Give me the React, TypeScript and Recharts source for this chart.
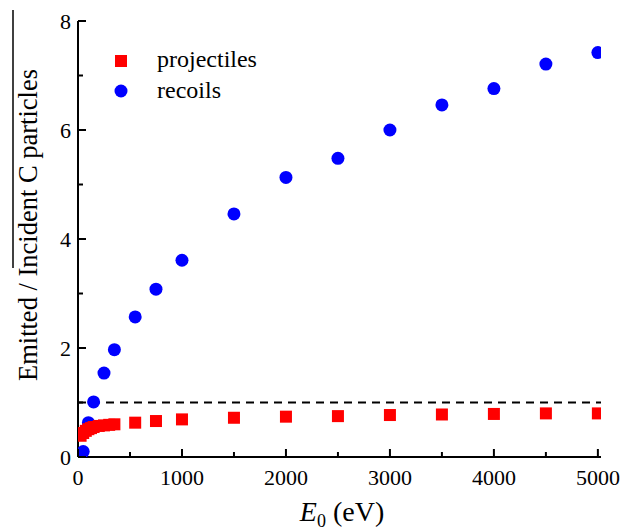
import { ScatterChart, Scatter, XAxis, YAxis, ReferenceLine } from 'recharts';

// primary energy E0 (eV) and emitted / incident ratios
const projectileEnergy = [25, 50, 75, 100, 125, 150, 200, 250, 300, 350, 550, 750, 1000, 1500, 2000, 2500, 3000, 3500, 4000, 4500, 5000];
const projectileRatio = [0.39, 0.44, 0.48, 0.51, 0.53, 0.55, 0.57, 0.58, 0.59, 0.6, 0.63, 0.66, 0.69, 0.72, 0.74, 0.75, 0.77, 0.78, 0.79, 0.8, 0.8];

const recoilEnergy = [50, 100, 150, 250, 350, 550, 750, 1000, 1500, 2000, 2500, 3000, 3500, 4000, 4500, 5000];
const recoilRatio = [0.1, 0.63, 1.01, 1.54, 1.97, 2.57, 3.08, 3.61, 4.46, 5.13, 5.48, 6.0, 6.46, 6.76, 7.21, 7.42];

const xTicks = [0, 500, 1000, 1500, 2000, 2500, 3000, 3500, 4000, 4500, 5000];
const xLabelTicks = [0, 1000, 2000, 3000, 4000, 5000];
const yTicks = [0, 1, 2, 3, 4, 5, 6, 7, 8];
const yLabelTicks = [0, 2, 4, 6, 8];

const projectiles = projectileEnergy.map((e, i) => ({ e, v: projectileRatio[i] }));
const recoils = recoilEnergy.map((e, i) => ({ e, v: recoilRatio[i] }));

const FONT = "'Liberation Serif', 'DejaVu Serif', 'Times New Roman', serif";
const txt = { fontFamily: FONT };

const Square = ({ cx, cy }: any) => <rect x={cx - 6} y={cy - 6} width={12} height={12} fill="#ff0000" />;
const Dot = ({ cx, cy }: any) => <circle cx={cx} cy={cy} r={6.5} fill="#0000ff" />;

const BottomTick = ({ x, y, payload }: any) => {
  const major = xLabelTicks.includes(payload.value);
  return (
    <g>
      <line x1={x} x2={x} y1={y} y2={y - (major ? 8 : 5)} stroke="#000" strokeWidth={2} />
      {major && (
        <text x={x} y={y + 28} textAnchor="middle" fontSize={22} style={txt} fill="#000">
          {payload.value}
        </text>
      )}
    </g>
  );
};

const TopTick = ({ x, y, payload }: any) => {
  const major = xLabelTicks.includes(payload.value);
  return <line x1={x} x2={x} y1={y} y2={y + (major ? 8 : 5)} stroke="#000" strokeWidth={2} />;
};

const LeftTick = ({ x, y, payload }: any) => {
  const major = yLabelTicks.includes(payload.value);
  return (
    <g>
      <line x1={x} x2={x + (major ? 8 : 5)} y1={y} y2={y} stroke="#000" strokeWidth={2} />
      {major && (
        <text x={x - 7} y={y + 8} textAnchor="end" fontSize={22} style={txt} fill="#000">
          {payload.value}
        </text>
      )}
    </g>
  );
};

const RightTick = ({ x, y, payload }: any) => {
  const major = yLabelTicks.includes(payload.value);
  return <line x1={x} x2={x - (major ? 8 : 5)} y1={y} y2={y} stroke="#000" strokeWidth={2} />;
};

const XTitle = () => (
  <text x={342} y={521} textAnchor="middle" fontSize={28} style={txt} fill="#000">
    <tspan fontStyle="italic">E</tspan>
    <tspan fontSize={18} dy={6}>0</tspan>
    <tspan dy={-6}> (eV)</tspan>
  </text>
);

const YTitle = () => (
  <text
    x={37}
    y={225}
    transform="rotate(-90, 37, 225)"
    textAnchor="middle"
    fontSize={26.5}
    style={txt}
    fill="#000"
  >
    Emitted / Incident C particles
  </text>
);

export default function App() {
  return (
    <div style={{ position: 'absolute', left: 0, top: 0, width: 621, height: 532, background: '#fff' }}>
      <ScatterChart width={621} height={532} margin={{ top: 21, right: 20, bottom: 0, left: 0 }}>
        <XAxis
          type="number"
          dataKey="e"
          domain={[0, 5030]}
          allowDataOverflow
          ticks={xTicks}
          interval={0}
          height={75}
          tickSize={0}
          tickMargin={0}
          tickLine={false}
          tick={<BottomTick />}
          axisLine={{ stroke: '#000', strokeWidth: 2 }}
          label={<XTitle />}
        />
        <XAxis
          xAxisId="top"
          orientation="top"
          type="number"
          dataKey="e"
          domain={[0, 5030]}
          allowDataOverflow
          ticks={xTicks}
          interval={0}
          height={0}
          tickSize={0}
          tickMargin={0}
          tickLine={false}
          tick={<TopTick />}
          axisLine={{ stroke: '#000', strokeWidth: 2 }}
        />
        <YAxis
          type="number"
          dataKey="v"
          domain={[0, 8]}
          allowDataOverflow
          ticks={yTicks}
          interval={0}
          width={78}
          tickSize={0}
          tickMargin={0}
          tickLine={false}
          tick={<LeftTick />}
          axisLine={{ stroke: '#000', strokeWidth: 2 }}
          label={<YTitle />}
        />
        <YAxis
          yAxisId="right"
          orientation="right"
          type="number"
          dataKey="v"
          domain={[0, 8]}
          allowDataOverflow
          ticks={yTicks}
          interval={0}
          width={0}
          tickSize={0}
          tickMargin={0}
          tickLine={false}
          tick={<RightTick />}
          axisLine={{ stroke: '#000', strokeWidth: 2 }}
        />
        <ReferenceLine y={1} stroke="#000" strokeWidth={2} strokeDasharray="8 6" />
        <Scatter name="recoils" data={recoils} shape={<Dot />} isAnimationActive={false} />
        <Scatter name="projectiles" data={projectiles} shape={<Square />} isAnimationActive={false} />
      </ScatterChart>
      <svg width={621} height={532} style={{ position: 'absolute', left: 0, top: 0, pointerEvents: 'none' }}>
        <line x1={13} x2={13} y1={10} y2={268} stroke="#000" strokeWidth={1.5} />
        <rect x={115} y={55} width={12} height={12} fill="#ff0000" />
        <text x={157} y={67} fontSize={24} style={txt} fill="#000">projectiles</text>
        <circle cx={121} cy={91} r={6.5} fill="#0000ff" />
        <text x={157} y={98} fontSize={24} style={txt} fill="#000">recoils</text>
      </svg>
    </div>
  );
}
